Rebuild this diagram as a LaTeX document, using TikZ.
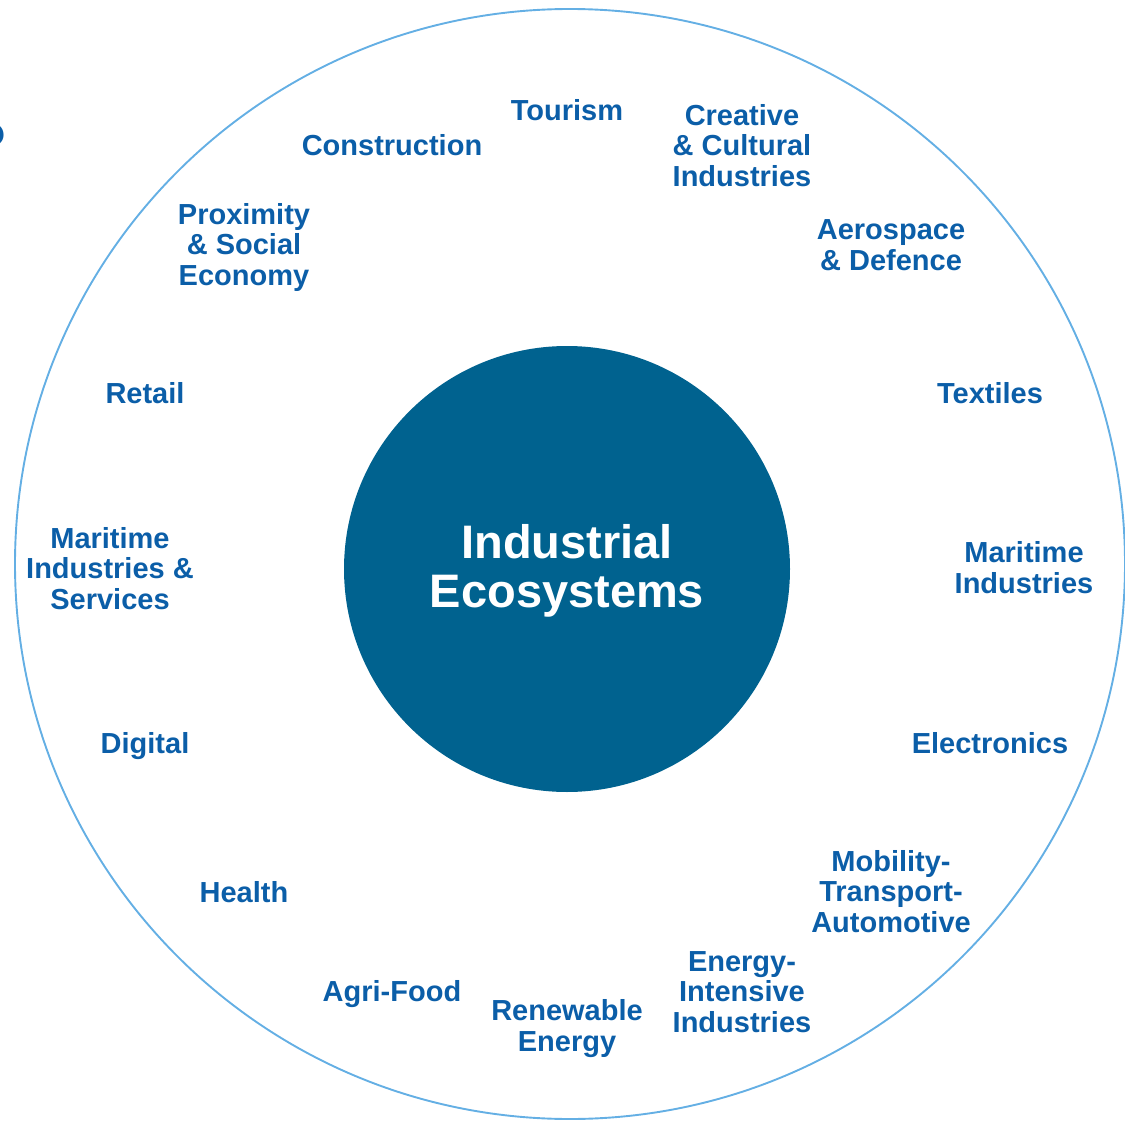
\documentclass[tikz,border=0pt]{standalone}
\usepackage{fontspec}
\setmainfont{Liberation Sans}
\definecolor{txtblue}{RGB}{11,94,168}
\definecolor{corefill}{RGB}{0,98,143}
\definecolor{ringblue}{RGB}{100,175,228}
\begin{document}
\begin{tikzpicture}[x=1pt,y=-1pt,
  lab/.style={font=\bfseries\fontsize{29}{30.5}\selectfont, text=txtblue, align=center, inner sep=0pt, anchor=base},
  core/.style={circle, fill=corefill, minimum size=446pt, inner sep=0pt},
  ring/.style={circle, draw=ringblue, line width=1.9pt, minimum size=1110pt, inner sep=0pt}]
\useasboundingbox (0,0) rectangle (1125,1121);
\node[ring] (ring) at (570,564) {};
\node[core] (core) at (567,569) {};
\node[text=white, font=\bfseries\fontsize{47}{49}\selectfont, align=center, inner sep=0pt, anchor=base] (coretext) at (567,607) {Industrial\\Ecosystems};
\node[font=\bfseries\fontsize{66}{66}\selectfont, text=txtblue, inner sep=0pt, anchor=base east] (qmark) at (8,168) {?};
\node[lab] (tourism) at (567,121) {Tourism};
\node[lab] (construction) at (392,156) {Construction};
\node[lab] (creative) at (742,186) {Creative\\\& Cultural\\Industries};
\node[lab] (proximity) at (244,285) {Proximity\\\& Social\\Economy};
\node[lab] (aerospace) at (891,270) {Aerospace\\\& Defence};
\node[lab] (retail) at (145,403) {Retail};
\node[lab] (textiles) at (990,403) {Textiles};
\node[lab] (maritimeL) at (110,609) {Maritime\\Industries \&\\Services};
\node[lab] (maritimeR) at (1024,593) {Maritime\\Industries};
\node[lab] (digital) at (145,753) {Digital};
\node[lab] (electronics) at (990,753) {Electronics};
\node[lab] (health) at (244,902) {Health};
\node[lab] (mobility) at (891,932) {Mobility-\\Transport-\\Automotive};
\node[lab] (agrifood) at (392,1001) {Agri-Food};
\node[lab] (renewable) at (567,1051) {Renewable\\Energy};
\node[lab] (energy) at (742,1032) {Energy-\\Intensive\\Industries};
\end{tikzpicture}
\end{document}
